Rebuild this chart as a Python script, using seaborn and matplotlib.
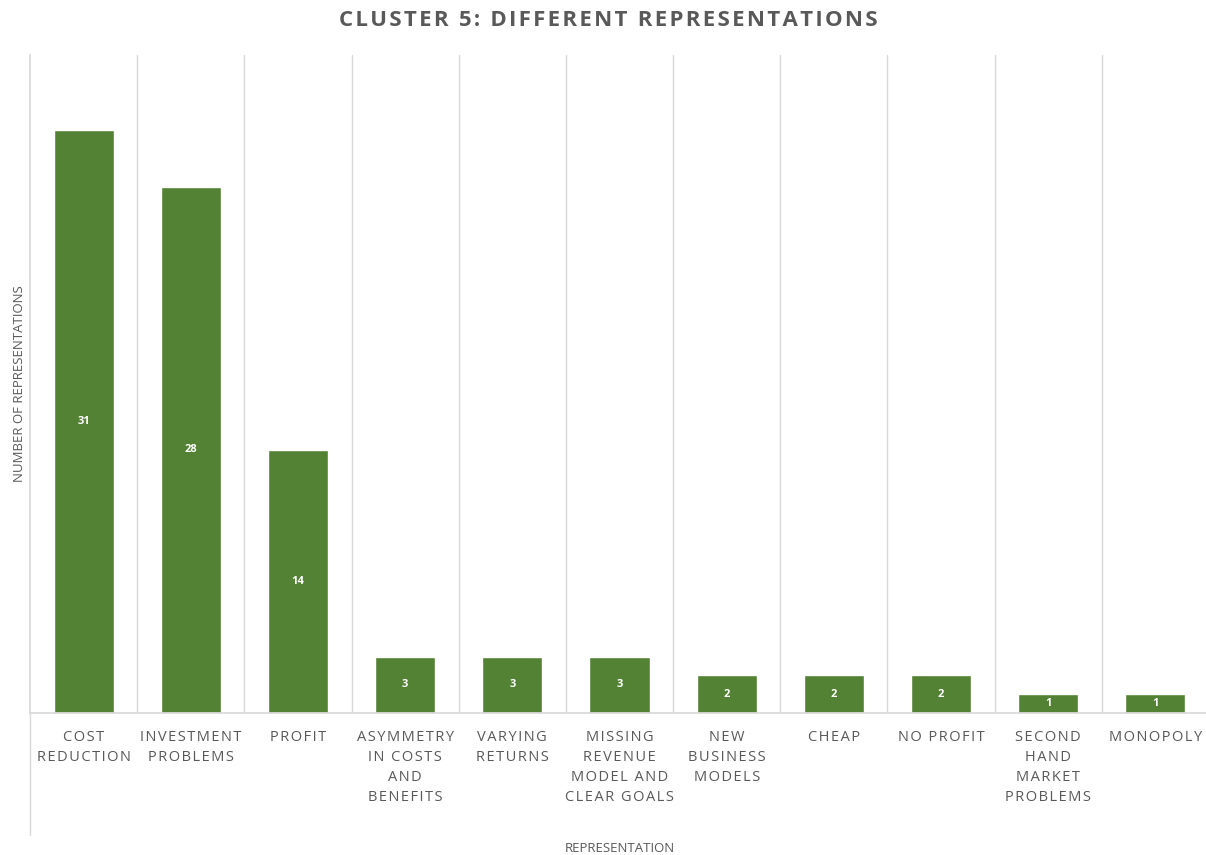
import matplotlib
matplotlib.use("Agg")
import matplotlib.pyplot as plt
import seaborn as sns
import pandas as pd

categories = [
    "COST\nREDUCTION",
    "INVESTMENT\nPROBLEMS",
    "PROFIT",
    "ASYMMETRY\nIN COSTS\nAND\nBENEFITS",
    "VARYING\nRETURNS",
    "MISSING\nREVENUE\nMODEL AND\nCLEAR GOALS",
    "NEW\nBUSINESS\nMODELS",
    "CHEAP",
    "NO PROFIT",
    "SECOND\nHAND\nMARKET\nPROBLEMS",
    "MONOPOLY",
]
counts = [31, 28, 14, 3, 3, 3, 2, 2, 2, 1, 1]

title = "CLUSTER 5: DIFFERENT REPRESENTATIONS"
x_label = "REPRESENTATION"
y_label = "NUMBER OF REPRESENTATIONS"

BAR = "#548235"
TEXT = "#595959"
GRID = "#d9d9d9"


def tracked(s, gap="\u200a"):
    """Widen letter spacing by putting hair spaces between characters."""
    return "\n".join(gap.join(line) for line in s.split("\n"))


sns.set_theme(style="white")
plt.rcParams["font.family"] = ["Open Sans", "DejaVu Sans"]

df = pd.DataFrame({"category": categories, "count": counts})

W, H = 1206, 855
fig = plt.figure(figsize=(W / 100, H / 100), dpi=100)
ax = fig.add_axes([30 / W, (H - 713) / H, 1179 / W, 658 / H])

sns.barplot(data=df, x="category", y="count", color=BAR, width=0.56,
            saturation=1, ax=ax)

n = len(categories)
ax.set_xlim(-0.5, n - 0.5)
ax.set_ylim(0, 35)
ax.set_yticks([])

# vertical separators between categories
ax.set_xticks([i + 0.5 for i in range(n - 1)], minor=True)
ax.grid(which="minor", axis="x", color=GRID, linewidth=1)
ax.grid(which="major", visible=False)
ax.tick_params(axis="x", which="both", length=0, pad=12)
ax.set_xticks(range(n))
ax.set_xticklabels([tracked(c) for c in categories], fontsize=10.5,
                   color=TEXT, linespacing=1.45, ha="center", va="top")

for side in ["top", "right"]:
    ax.spines[side].set_visible(False)
ax.spines["bottom"].set_color(GRID)
ax.spines["left"].set_color(GRID)
ax.spines["left"].set_bounds(0, 35)
# left rule continues down through the label area
ax.plot([-0.5, -0.5], [0, -6.5], color=GRID, lw=1, clip_on=False)

for i, v in enumerate(counts):
    ax.text(i, v / 2, str(v), ha="center", va="center", color="white",
            fontsize=8, fontweight="bold")

ax.set_xlabel(x_label, fontsize=9.5, color=TEXT, labelpad=0, va="center")
ax.xaxis.set_label_coords(0.5, -(848 - 713) / 658)
ax.set_ylabel(y_label, fontsize=9.5, color=TEXT, va="center")
ax.yaxis.set_label_coords(-10 / 1179, 0.5)

fig.text(608 / W, 1 - 21 / H, tracked(title), ha="center",
         va="center", fontsize=16, fontweight="bold", color=TEXT)

fig.savefig("out.png", dpi=100, facecolor="white")
